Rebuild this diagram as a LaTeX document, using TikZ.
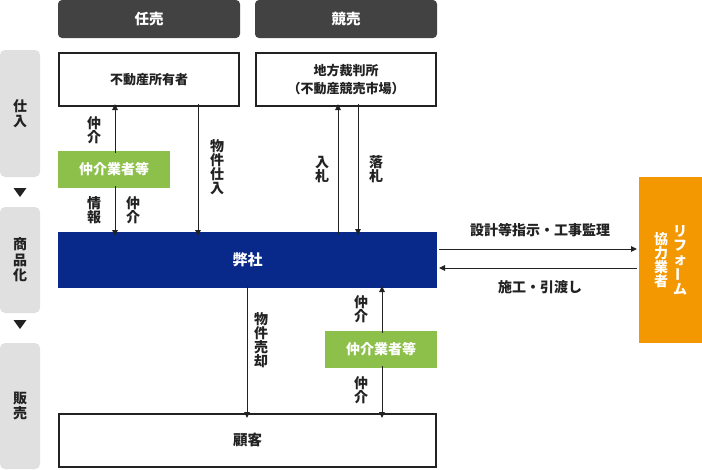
\documentclass[tikz,border=0pt]{standalone}
\usepackage{fontspec}
\usepackage{graphicx}
\setmainfont{Noto Sans CJK JP}
\usetikzlibrary{arrows.meta,positioning,calc}
\definecolor{headgray}{HTML}{424242}
\definecolor{sidegray}{HTML}{E0E0E0}
\definecolor{agreen}{HTML}{8CC04B}
\definecolor{ablue}{HTML}{08298A}
\definecolor{aorange}{HTML}{F39800}
\definecolor{txt}{HTML}{222222}
\begin{document}
\begin{tikzpicture}[x=1pt,y=-1pt,
  every node/.style={inner sep=0pt,outer sep=0pt,text=txt},
  head/.style={fill=headgray,rounded corners=4pt,minimum width=182pt,minimum height=38pt,anchor=north west,text=white,font=\bfseries\fontsize{14.5}{16}\selectfont},
  side/.style={fill=sidegray,rounded corners=5pt,minimum width=40pt,anchor=north west,font=\bfseries\fontsize{14}{15.5}\selectfont,align=center},
  wbox/.style={draw=txt,line width=2pt,fill=white,anchor=north west,align=center,font=\bfseries\fontsize{13}{18}\selectfont},
  gbox/.style={fill=agreen,minimum width=112pt,minimum height=37pt,anchor=north west,text=white,font=\bfseries\fontsize{14}{15}\selectfont},
  vlab/.style={align=center,font=\bfseries\fontsize{14}{14}\selectfont},
  hlab/.style={font=\bfseries\fontsize{14}{15}\selectfont},
  arr/.style={-{Triangle[length=6pt,width=5.5pt]},line width=1pt,draw=txt},
  tri/.style={fill=txt}
]
\useasboundingbox (0,0) rectangle (702,469);

% left phase column
\node[side,minimum height=127pt] (s1) at (0,50) {仕\\入};
\node[side,minimum height=106pt] (s2) at (0,207) {商\\品\\化};
\node[side,minimum height=126pt] (s3) at (0,343) {販\\売};
\fill[tri] (13.5,188) -- (26.5,188) -- (20,197) -- cycle;
\fill[tri] (13.5,320) -- (26.5,320) -- (20,329) -- cycle;

% headers
\node[head] (h1) at (58,0) {任売};
\node[head] (h2) at (255,0) {競売};

% top boxes
\node[wbox,minimum width=180pt,minimum height=53pt] (owner) at (59,53) {不動産所有者};
\node[wbox,minimum width=180pt,minimum height=53pt] (court) at (256,53) {地方裁判所\\（不動産競売市場）};

% green broker boxes
\node[gbox] (g1) at (58,151) {仲介業者等};
\node[gbox] (g2) at (325,331) {仲介業者等};

% company
\node[fill=ablue,minimum width=379pt,minimum height=56pt,anchor=north west,text=white,font=\bfseries\fontsize{15}{17}\selectfont] (co) at (58,232) {弊社};

% customer
\node[wbox,minimum width=377pt,minimum height=53pt,font=\bfseries\fontsize{14.5}{16}\selectfont] (cust) at (59,414) {顧客};

% reform partner
\node[fill=aorange,minimum width=63pt,minimum height=166pt,anchor=north west] (ref) at (639,177) {};
\node[vlab,text=white,anchor=center] (refa) at (680,260) {リ\\フ\\ォ\\\rotatebox[origin=c]{90}{ー}\\ム};
\node[vlab,text=white,anchor=center] (refb) at (661,260) {協\\力\\業\\者};

% x positions for vertical connectors
\coordinate (xa) at (115,0);
\coordinate (xb) at (198,0);
\coordinate (xc) at (338,0);
\coordinate (xd) at (358,0);
\coordinate (xe) at (247,0);
\coordinate (xf) at (382,0);

% connectors, top part
\draw[arr] ([yshift=-2pt]g1.north -| xa) -- ([yshift=2pt]owner.south -| xa);
\draw[arr] ([yshift=2pt]g1.south -| xa) -- ([yshift=-4pt]co.north -| xa);
\draw[arr] ([yshift=2pt]owner.south -| xb) -- ([yshift=-4pt]co.north -| xb);
\draw[arr] ([yshift=-2pt]co.north -| xc) -- ([yshift=2pt]court.south -| xc);
\draw[arr] ([yshift=2pt]court.south -| xd) -- ([yshift=-3pt]co.north -| xd);

% connectors, bottom part
\draw[arr] ([yshift=2pt]co.south -| xe) -- ([yshift=-4pt]cust.north -| xe);
\draw[arr] ([yshift=-2pt]g2.north -| xf) -- ([yshift=2pt]co.south -| xf);
\draw[arr] ([yshift=2pt]g2.south -| xf) -- ([yshift=-4pt]cust.north -| xf);

% horizontal connectors
\coordinate (ya) at (0,249);
\coordinate (yb) at (0,268);
\draw[arr] ([xshift=2pt]co.east |- ya) -- ([xshift=-2pt]ref.west |- ya);
\draw[arr] ([xshift=-2pt]ref.west |- yb) -- ([xshift=2pt]co.east |- yb);

% labels
\node[vlab] (l1) at (94,130) {仲\\介};
\node[vlab] (l2) at (94,210) {情\\報};
\node[vlab] (l3) at (133,210) {仲\\介};
\node[vlab] (l4) at (217,167.5) {物\\件\\仕\\入};
\node[vlab] (l5) at (322,169.5) {入\\札};
\node[vlab] (l6) at (376,169.5) {落\\札};
\node[vlab] (l7) at (261,340) {物\\件\\売\\却};
\node[vlab] (l8) at (361,309.5) {仲\\介};
\node[vlab] (l9) at (361,390.5) {仲\\介};
\node[hlab] (l10) at (540,230) {設計等指示・工事監理};
\node[hlab] (l11) at (540,287) {施工・引渡し};
\end{tikzpicture}
\end{document}
